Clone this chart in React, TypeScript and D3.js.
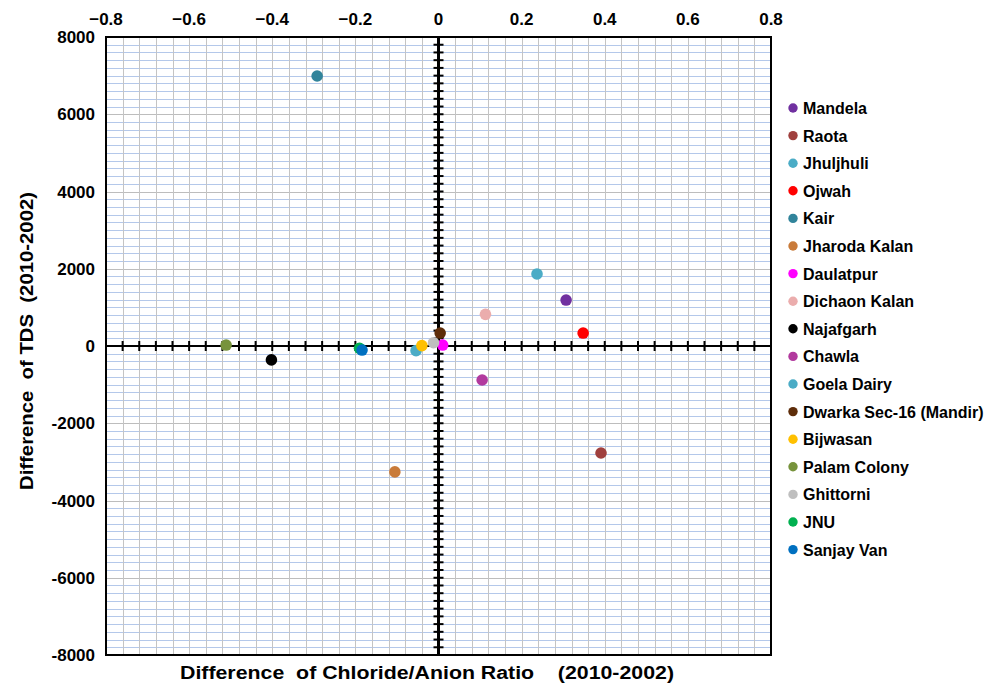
import { useEffect, useRef } from "react";
import * as d3 from "d3";

const sites = [
  "Mandela", "Raota", "Jhuljhuli", "Ojwah", "Kair", "Jharoda Kalan", "Daulatpur",
  "Dichaon Kalan", "Najafgarh", "Chawla", "Goela Dairy", "Dwarka Sec-16 (Mandir)",
  "Bijwasan", "Palam Colony", "Ghittorni", "JNU", "Sanjay Van",
];
const chlorideDiff = [
  0.307, 0.391, 0.237, 0.348, -0.292, -0.105, 0.01,
  0.113, -0.402, 0.105, -0.054, 0.004,
  -0.04, -0.511, -0.012, -0.19, -0.184,
];
const tdsDiff = [
  1190, -2770, 1865, 335, 6990, -3260, 25,
  820, -360, -880, -120, 335,
  10, 25, 85, -60, -105,
];
const colors = [
  "#7030A0", "#A0403E", "#4BACC6", "#FF0000", "#31849B", "#C97B3A", "#FF00FF",
  "#EBADAD", "#000000", "#B23A9E", "#4BACC6", "#5E2D0A",
  "#FFC000", "#77933C", "#BFBFBF", "#00B050", "#0070C0",
];
const xTicks = [-0.8, -0.6, -0.4, -0.2, 0, 0.2, 0.4, 0.6, 0.8];
const yTicks = [8000, 6000, 4000, 2000, 0, -2000, -4000, -6000, -8000];

const W = 1005;
const H = 684;
const M = { left: 106, right: 771, top: 37, bottom: 655 };
const FONT = "'Liberation Sans', Arial, sans-serif";

export default function App() {
  const svgRef = useRef<SVGSVGElement>(null);

  useEffect(() => {
    const svg = d3.select(svgRef.current);
    svg.selectAll("*").remove();

    const x = d3.scaleLinear().domain([-0.8, 0.8]).range([M.left, M.right]);
    const y = d3.scaleLinear().domain([-8000, 8000]).range([M.bottom, M.top]);

    const g = svg.append("g");

    // horizontal grid (minor blue every 200, gray every 2000)
    const hLines = d3.range(-8000, 8001, 200);
    g.selectAll("line.h")
      .data(hLines)
      .join("line")
      .attr("x1", M.left)
      .attr("x2", M.right)
      .attr("y1", (d) => Math.round(y(d)) + 0.5)
      .attr("y2", (d) => Math.round(y(d)) + 0.5)
      .attr("stroke", (d) => (d % 2000 === 0 ? "#BDBDBD" : "#B4C8EA"))
      .attr("stroke-width", 1);

    // vertical grid every 0.04
    const vLines = d3.range(0, 41).map((i) => -0.8 + i * 0.04);
    g.selectAll("line.v")
      .data(vLines)
      .join("line")
      .attr("x1", (d) => Math.round(x(d)) + 0.5)
      .attr("x2", (d) => Math.round(x(d)) + 0.5)
      .attr("y1", M.top)
      .attr("y2", M.bottom)
      .attr("stroke", "#C4C4C4")
      .attr("stroke-width", 1);

    // frame
    g.append("rect")
      .attr("x", M.left)
      .attr("y", M.top)
      .attr("width", M.right - M.left)
      .attr("height", M.bottom - M.top)
      .attr("fill", "none")
      .attr("stroke", "#000")
      .attr("stroke-width", 2);

    // zero axes
    g.append("line")
      .attr("x1", M.left).attr("x2", M.right)
      .attr("y1", y(0)).attr("y2", y(0))
      .attr("stroke", "#000").attr("stroke-width", 2);
    g.append("line")
      .attr("x1", x(0)).attr("x2", x(0))
      .attr("y1", M.top).attr("y2", M.bottom)
      .attr("stroke", "#000").attr("stroke-width", 3);

    // cross ticks on horizontal zero axis
    g.selectAll("line.xt")
      .data(vLines.slice(1, -1))
      .join("line")
      .attr("x1", (d) => x(d)).attr("x2", (d) => x(d))
      .attr("y1", y(0) - 5).attr("y2", y(0) + 5)
      .attr("stroke", "#000").attr("stroke-width", 2);

    // cross ticks on vertical zero axis
    g.selectAll("line.yt")
      .data(hLines.slice(1, -1))
      .join("line")
      .attr("x1", x(0) - 5).attr("x2", x(0) + 5)
      .attr("y1", (d) => y(d)).attr("y2", (d) => y(d))
      .attr("stroke", "#000").attr("stroke-width", 2);

    // tick labels
    g.selectAll("text.xl")
      .data(xTicks)
      .join("text")
      .attr("x", (d) => x(d))
      .attr("y", 25)
      .attr("text-anchor", "middle")
      .attr("font-family", FONT)
      .attr("font-weight", "bold")
      .attr("font-size", 17)
      .text((d) => (d === 0 ? "0" : d3.format(".1f")(d)));

    g.selectAll("text.yl")
      .data(yTicks)
      .join("text")
      .attr("x", 95)
      .attr("y", (d) => y(d) + 6)
      .attr("text-anchor", "end")
      .attr("font-family", FONT)
      .attr("font-weight", "bold")
      .attr("font-size", 17)
      .text((d) => String(d));

    // axis titles
    g.append("text")
      .attr("transform", "translate(33,341) rotate(-90)")
      .attr("text-anchor", "middle")
      .attr("font-family", FONT)
      .attr("font-weight", "bold")
      .attr("font-size", 18)
      .attr("textLength", 298)
      .attr("lengthAdjust", "spacingAndGlyphs")
      .style("white-space", "pre")
      .text("Difference  of TDS  (2010-2002)");

    g.append("text")
      .attr("x", 427)
      .attr("y", 679)
      .attr("text-anchor", "middle")
      .attr("font-family", FONT)
      .attr("font-weight", "bold")
      .attr("font-size", 18)
      .attr("textLength", 494)
      .attr("lengthAdjust", "spacingAndGlyphs")
      .style("white-space", "pre")
      .text("Difference  of Chloride/Anion Ratio    (2010-2002)");

    // points
    const pts = sites.map((s, i) => ({ s, x: chlorideDiff[i], y: tdsDiff[i], c: colors[i] }));
    g.selectAll("circle.pt")
      .data(pts)
      .join("circle")
      .attr("cx", (d) => x(d.x))
      .attr("cy", (d) => y(d.y))
      .attr("r", 5.8)
      .attr("fill", (d) => d.c);

    // legend
    const lg = g.append("g");
    const items = lg.selectAll("g")
      .data(pts)
      .join("g")
      .attr("transform", (_d, i) => `translate(793,${108 + i * 27.6})`);
    items.append("circle").attr("r", 4.7).attr("fill", (d) => d.c);
    items.append("text")
      .attr("x", 10)
      .attr("y", 6)
      .attr("font-family", FONT)
      .attr("font-weight", "bold")
      .attr("font-size", 16)
      .text((d) => d.s);
  }, []);

  return (
    <div style={{ position: "absolute", left: 0, top: 0, background: "#fff" }}>
      <svg ref={svgRef} width={W} height={H} />
    </div>
  );
}
